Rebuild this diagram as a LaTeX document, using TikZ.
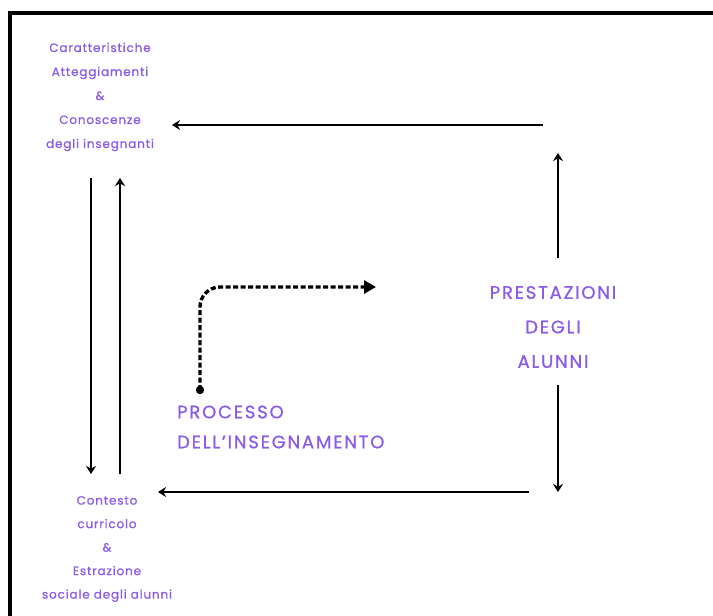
\documentclass[tikz,border=0pt]{standalone}
\usepackage{fontspec}
\setmainfont{Poppins}
\newfontfamily\handS{Poppins}[LetterSpace=7, FakeBold=1]
\newfontfamily\handL{Poppins}[LetterSpace=10, FakeBold=1]
\usetikzlibrary{arrows.meta}
\definecolor{vio}{RGB}{140,92,232}
\begin{document}
\begin{tikzpicture}[x=1pt,y=-1pt,
  lbl/.style={text=vio, align=center, inner sep=0pt},
  small/.style={lbl, font=\handS\fontsize{12}{24}\selectfont},
  conn/.style={line width=2.7pt, -{Stealth[length=8pt,width=10pt]}},
  frame/.style={line width=4pt},
  dashconn/.style={line width=3.4pt, dash pattern=on 5pt off 2.5pt, rounded corners=20pt, -{Triangle[length=12pt,width=13pt]}}]
\useasboundingbox (0,0) rectangle (713,616);
% frame
\draw[frame] (10,616) -- (10,13) -- (713,13);
% labels
\node[small] (teach) at (100,97) {Caratteristiche\\Atteggiamenti\\\&\\Conoscenze\\degli insegnanti};
\node[lbl, font=\handS\fontsize{12}{23.5}\selectfont] (ctx) at (107,549) {Contesto\\curricolo\\\&\\Estrazione\\sociale degli alunni};
\node[lbl, font=\handL\fontsize{18}{34.5}\selectfont] (perf) at (553,327) {PRESTAZIONI\\DEGLI\\ALUNNI};
\node[lbl, align=left, anchor=west, font=\handL\fontsize{18}{30}\selectfont] (proc) at (177,427) {PROCESSO\\DELL’INSEGNAMENTO};
% coordinates
\coordinate (t1) at (543,125); \coordinate (t2) at (172,125);
\coordinate (ru1) at (558,258); \coordinate (ru2) at (558,153);
\coordinate (rd1) at (558,385); \coordinate (rd2) at (558,492);
\coordinate (b1) at (529,492); \coordinate (b2) at (158,492);
\coordinate (ld1) at (91,178); \coordinate (ld2) at (91,474);
\coordinate (lu1) at (120,474); \coordinate (lu2) at (120,178);
\coordinate (d0) at (200,390); \coordinate (dc) at (200,287); \coordinate (d1) at (376,287);
% connectors
\draw[conn] (t1) -- (t2);
\draw[conn] (ru1) -- (ru2);
\draw[conn] (rd1) -- (rd2);
\draw[conn] (b1) -- (b2);
\draw[conn] (ld1) -- (ld2);
\draw[conn] (lu1) -- (lu2);
\draw[dashconn] (d0) -- (dc) -- (d1);
\fill (d0) circle (4.2pt);
\end{tikzpicture}
\end{document}
